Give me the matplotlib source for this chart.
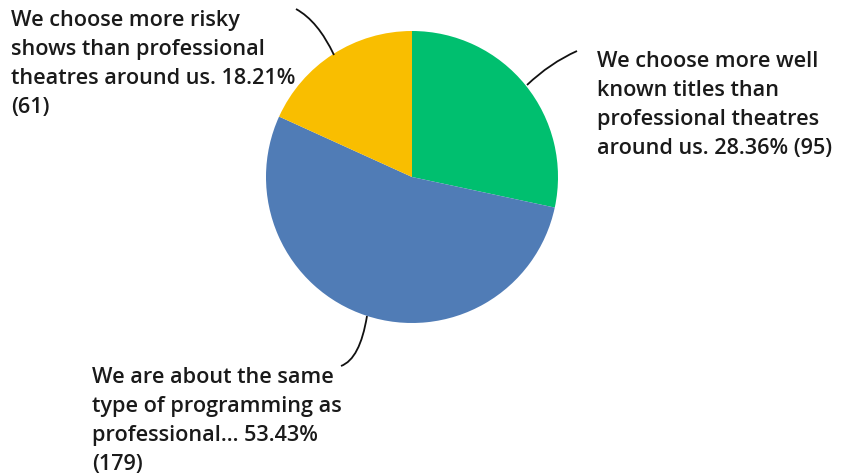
import numpy as np
import matplotlib.pyplot as plt
from matplotlib.path import Path
from matplotlib.patches import PathPatch

labels = ['We choose more well\nknown titles than\nprofessional theatres\naround us. 28.36% (95)',
          'We are about the same\ntype of programming as\nprofessional... 53.43%\n(179)',
          'We choose more risky\nshows than professional\ntheatres around us. 18.21%\n(61)']
shares = [28.36, 53.43, 18.21]
colors = ['#00BF6F', '#507CB6', '#F9BE00']

W, H = 844, 477
fig = plt.figure(figsize=(W / 100, H / 100), dpi=100)
ax = fig.add_axes([0, 0, 1, 1])

cx, cy, r = 412, H - 178, 146
ax.pie(shares, colors=colors, startangle=90, counterclock=False,
       center=(cx, cy), radius=r, frame=True,
       wedgeprops=dict(linewidth=0))
ax.set_xlim(0, W)
ax.set_ylim(0, H)
ax.set_aspect('equal')
ax.axis('off')

# leader lines (quadratic curves), pixel coords from top
leaders = [((527, 86), (550, 64), (577, 52)),
           ((367, 317), (360, 360), (341, 367)),
           ((334, 56), (318, 22), (296, 10))]
for p0, p1, p2 in leaders:
    verts = [(x, H - y) for x, y in (p0, p1, p2)]
    path = Path(verts, [Path.MOVETO, Path.CURVE3, Path.CURVE3])
    ax.add_patch(PathPatch(path, fill=False, lw=1.3, color='#111111'))

text_pos = [(597, 51), (92, 367), (11, 10)]
for lab, (x, y) in zip(labels, text_pos):
    ax.text(x, H - y, lab, ha='left', va='top', fontsize=15.6,
            family='Open Sans', fontweight='semibold', color='#1a1a1a',
            linespacing=1.5)

fig.savefig('out.png', dpi=100)
